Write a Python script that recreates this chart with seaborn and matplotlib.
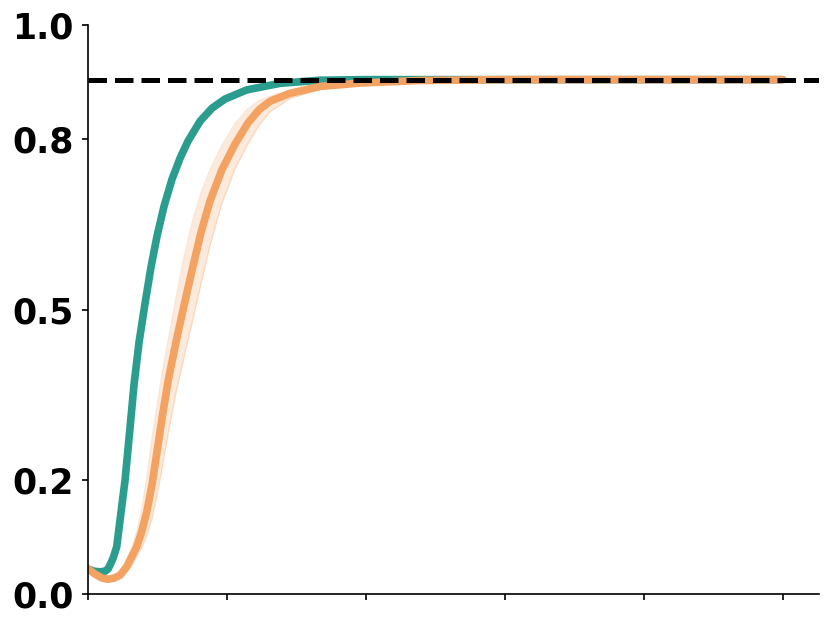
import matplotlib
matplotlib.use("Agg")
import matplotlib.pyplot as plt
import seaborn as sns

# values
teal_x = [0, 4.3, 8.6, 12.2, 14.4, 15.8, 18.0, 20.6, 23.0, 26.6, 29.9, 33.1, 36.7,
          41.0, 45.3, 49.6, 54.7, 60.4, 66.2, 71.9, 80.6, 89.2, 98.6, 114.2,
          138.1, 166.9, 200, 300, 400, 500]
teal_y = [0.044, 0.040, 0.039, 0.040, 0.044, 0.051, 0.063, 0.083, 0.130, 0.200,
          0.285, 0.369, 0.443, 0.511, 0.575, 0.629, 0.682, 0.729, 0.766, 0.796,
          0.831, 0.854, 0.870, 0.886, 0.8975, 0.903, 0.904, 0.904, 0.904, 0.904]

orange_x = [0, 5.0, 10.1, 14.4, 18.7, 23.0, 27.8, 31.3, 35.0, 38.5, 42.2, 46.0,
            49.6, 53.6, 57.7, 63.3, 69.1, 75.2, 81.3, 87.8, 96.2, 105.8, 115.1,
            123.0, 130.9, 145.3, 166.9, 195.7, 238.8, 300, 400, 500]
orange_y = [0.044, 0.035, 0.028, 0.026, 0.028, 0.033, 0.048, 0.065, 0.083, 0.109,
            0.144, 0.192, 0.250, 0.315, 0.376, 0.443, 0.508, 0.573, 0.636, 0.691,
            0.745, 0.791, 0.828, 0.851, 0.866, 0.880, 0.892, 0.898, 0.9025,
            0.904, 0.904, 0.904]
orange_lo = [0.041, 0.032, 0.025, 0.023, 0.025, 0.029, 0.040, 0.050, 0.066, 0.081,
             0.103, 0.133, 0.174, 0.226, 0.284, 0.355, 0.417, 0.481, 0.546, 0.614,
             0.686, 0.748, 0.792, 0.824, 0.848, 0.871, 0.887, 0.896, 0.902,
             0.904, 0.904, 0.904]
orange_hi = [0.047, 0.038, 0.031, 0.029, 0.031, 0.039, 0.060, 0.080, 0.109, 0.148,
             0.203, 0.273, 0.330, 0.393, 0.447, 0.521, 0.593, 0.656, 0.705, 0.746,
             0.788, 0.827, 0.853, 0.867, 0.875, 0.885, 0.894, 0.899, 0.903,
             0.904, 0.904, 0.904]

target = 0.904
x_ticks = [0, 100, 200, 300, 400, 500]
y_ticks = [0.0, 0.2, 0.5, 0.8, 1.0]
y_labels = ["0.0", "0.2", "0.5", "0.8", "1.0"]

TEAL = "#2a9d8f"
ORANGE = "#f4a261"

sns.set_style("ticks")
fig = plt.figure(figsize=(8.31, 6.27), dpi=100)
ax = fig.add_axes([0.106, 0.0526, 0.8796, 0.9075])

# spread across runs for the orange curve
ax.fill_between(orange_x, orange_lo, orange_hi, color=ORANGE, alpha=0.22, lw=0)
ax.plot(orange_x, orange_lo, color=ORANGE, alpha=0.25, lw=1)
ax.plot(orange_x, orange_hi, color=ORANGE, alpha=0.25, lw=1)

sns.lineplot(x=teal_x, y=teal_y, color=TEAL, linewidth=5.5, ax=ax)
sns.lineplot(x=orange_x, y=orange_y, color=ORANGE, linewidth=5.5, ax=ax)
ax.axhline(target, color="black", linestyle="--", linewidth=3.6, zorder=5)

ax.set_xlim(0, 526)
ax.set_ylim(0, 1)
ax.set_xticks(x_ticks)
ax.set_xticklabels([])
ax.set_yticks(y_ticks)
ax.set_yticklabels(y_labels, fontsize=25, fontweight="bold", color="black")
ax.tick_params(axis="both", length=4.2, width=1.2, pad=6, color="black")
for s in ["left", "bottom"]:
    ax.spines[s].set_linewidth(1.2)
    ax.spines[s].set_color("black")
sns.despine(ax=ax)

plt.savefig("out.png", dpi=100)
plt.close()
